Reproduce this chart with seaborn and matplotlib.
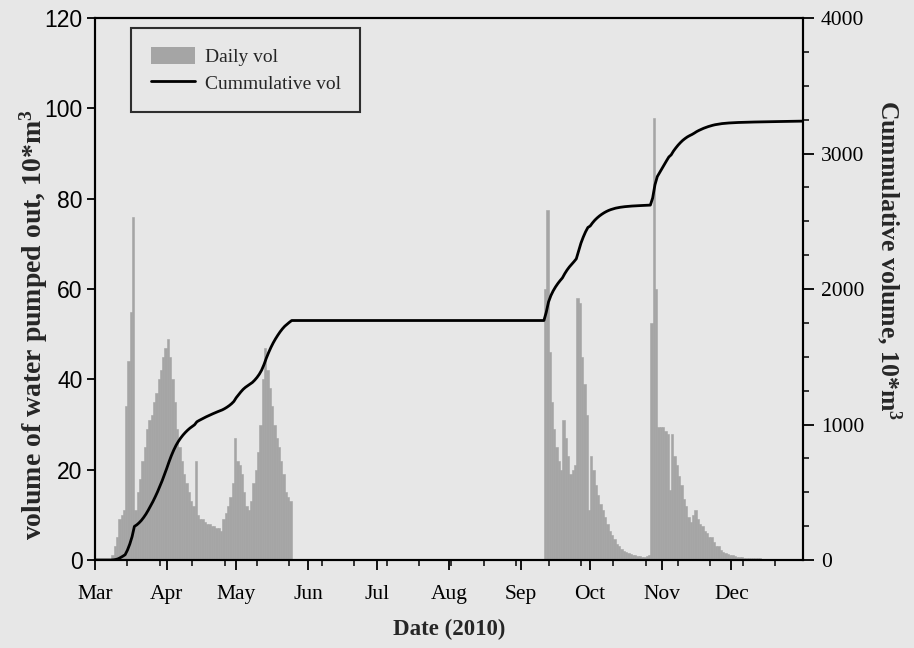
import numpy as np
import pandas as pd
import matplotlib
matplotlib.use("Agg")
import matplotlib.pyplot as plt
import seaborn as sns
from matplotlib.patches import Patch
from matplotlib.lines import Line2D
from matplotlib.ticker import FixedLocator, MultipleLocator, NullFormatter

# ---- data: daily pumped volume (10*m^3), day 0 = 1 Mar 2010 ----
n_days = 306  # 1 Mar .. 31 Dec

spring_start = 7
spring_vol = [1, 3, 5, 9, 10, 11,
              34, 44, 55, 76,
              11, 15, 18, 22, 25, 29, 31, 32, 35, 37, 40, 42, 45, 47, 49,
              45, 40, 35, 29, 25, 22, 19, 17, 15, 13, 12,
              22, 10, 9, 9, 8.5, 8, 8, 7.5, 7.5, 7, 7, 6.5,
              9, 10.5, 12, 14, 17, 27, 22, 21, 19, 15, 12, 11,
              13, 17, 20, 24, 30, 40, 47, 42, 38, 34, 30, 27, 25, 22, 19, 15, 14, 13]

sep_start = 194
sep_vol = [60, 77.5, 46, 35, 29, 25, 22, 20,
           31, 27, 23, 19, 20, 21,
           58, 57, 45, 39, 32, 11,
           23, 20, 16.5, 14.5, 12.5, 11, 9.5, 8, 6.5, 5.5, 4.7,
           3.5, 3, 2.5, 2, 1.7, 1.5, 1.3, 1.1, 1.0, 0.9, 0.8, 0.7, 0.7, 0.8, 1.0]

nov_start = 240
nov_vol = [52.5, 97.8, 60, 29.5, 29.5, 29.5, 28.5, 28, 15.5, 28,
           23, 21, 18.5, 16.5, 13.5, 12, 9.5, 8.5, 10, 11,
           9, 8, 7.5, 6.5, 6, 5, 5, 4, 3, 3,
           2.3, 1.8, 1.5, 1.3, 1.1, 1.0,
           0.8, 0.7, 0.6, 0.6, 0.5, 0.5, 0.5, 0.4, 0.4, 0.4, 0.4, 0.4,
           0.3, 0.3, 0.3, 0.3, 0.3, 0.3, 0.3, 0.3, 0.3, 0.3,
           0.3, 0.3, 0.3, 0.3, 0.3, 0.3, 0.3, 0.3]

month_labels = ["Mar", "Apr", "May", "Jun", "Jul", "Aug", "Sep", "Oct", "Nov", "Dec"]
month_starts = [0, 31, 61, 92, 122, 153, 184, 214, 245, 275]

# ---- assemble daily series ----
daily = np.zeros(n_days)
for start, vals in ((spring_start, spring_vol), (sep_start, sep_vol), (nov_start, nov_vol)):
    daily[start:start + len(vals)] = vals
days = np.arange(n_days)
df = pd.DataFrame({"day": days + 0.5, "vol": daily})
cum = pd.DataFrame({"day": np.concatenate([[0], days + 1]),
                    "cum": np.concatenate([[0], np.cumsum(daily)])})

# ---- style ----
sns.set_theme(style="ticks")
bg = "#e7e7e7"
bar_color = "#a5a5a5"
plt.rcParams["font.family"] = ["Liberation Serif", "DejaVu Serif"]
plt.rcParams["mathtext.fontset"] = "custom"
plt.rcParams["mathtext.rm"] = "Liberation Serif:bold"
plt.rcParams["mathtext.bf"] = "Liberation Serif:bold"
plt.rcParams["mathtext.it"] = "Liberation Serif:bold:italic"
plt.rcParams["axes.linewidth"] = 1.5

fig = plt.figure(figsize=(9.14, 6.48), dpi=100, facecolor=bg)
ax = fig.add_axes([0.104, 0.1358, 0.7746, 0.8364])
ax.set_facecolor(bg)

sns.barplot(data=df, x="day", y="vol", native_scale=True, width=1.0,
            color=bar_color, saturation=1, linewidth=0.4, edgecolor=bar_color,
            errorbar=None, ax=ax)

ax.set_xlim(0, n_days)
ax.set_ylim(0, 120)
ax.yaxis.set_major_locator(MultipleLocator(20))
ax.xaxis.set_major_locator(FixedLocator(month_starts))
ax.set_xticklabels(month_labels)
ax.xaxis.set_minor_locator(FixedLocator(list(range(14, n_days, 14))))
ax.xaxis.set_minor_formatter(NullFormatter())
ax.tick_params(axis="x", which="major", length=7, width=1.3, direction="out",
               pad=11, labelsize=15.5, colors="black")
ax.tick_params(axis="x", which="minor", length=4, width=1.3, direction="out")
ax.tick_params(axis="y", which="major", length=6, width=1.3, direction="out",
               pad=3, labelsize=16.5, colors="black")
for lbl in ax.get_yticklabels():
    lbl.set_fontfamily(["Liberation Sans", "DejaVu Sans"])
for sp in ax.spines.values():
    sp.set_visible(True)
    sp.set_color("black")
    sp.set_linewidth(1.5)

ax.set_xlabel("Date (2010)", fontsize=16.5, fontweight="bold", labelpad=11)
ax.set_ylabel(r"volume of water pumped out, 10*m$^{\mathbf{3}}$",
              fontsize=20, fontweight="bold")
ax.yaxis.set_label_coords(-0.063, 0.434)

# ---- cumulative volume on the right axis ----
ax2 = ax.twinx()
sns.lineplot(data=cum, x="day", y="cum", color="black", linewidth=2.0, ax=ax2)
ax2.set_ylim(0, 4000)
ax2.set_xlim(0, n_days)
ax2.yaxis.set_major_locator(MultipleLocator(1000))
ax2.yaxis.set_minor_locator(MultipleLocator(250))
ax2.tick_params(axis="y", which="major", length=8, width=1.3, direction="out",
                pad=5, labelsize=15.5, colors="black")
ax2.tick_params(axis="y", which="minor", length=4, width=1.3, direction="out")
for sp in ax2.spines.values():
    sp.set_color("black")
    sp.set_linewidth(1.5)
ax2.set_xlabel("")
ax2.set_ylabel(r"Cummulative volume, 10*m$^{\mathbf{3}}$", fontsize=18.5,
               fontweight="bold", rotation=270, va="bottom", labelpad=7)
ax2.yaxis.label.set_y(0.553)

handles = [Patch(facecolor=bar_color, edgecolor="none", label="Daily vol"),
           Line2D([0], [0], color="black", linewidth=2.0, label="Cummulative vol")]
leg = ax2.legend(handles=handles, loc="upper left", bbox_to_anchor=(0.051, 0.9815),
                 borderaxespad=0, frameon=True, fancybox=False, prop={"size": 14},
                 handlelength=2.3, handleheight=0.9, handletextpad=0.5,
                 labelspacing=0.4, borderpad=1.0)
leg.get_frame().set_edgecolor("black")
leg.get_frame().set_facecolor("none")
leg.get_frame().set_linewidth(1.5)

fig.savefig("out.png", dpi=100, facecolor=bg)
